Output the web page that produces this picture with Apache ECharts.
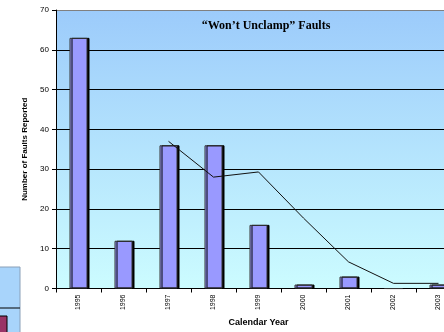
<!DOCTYPE html>
<html>
<head>
<meta charset="utf-8">
<script src="https://cdn.jsdelivr.net/npm/echarts@6/dist/echarts.min.js"></script>
<style>
  html, body { margin: 0; padding: 0; background: #ffffff; overflow: hidden; }
  #wrap { width: 444px; height: 332px; overflow: hidden; }
  #chart { width: 470px; height: 332px; }
</style>
</head>
<body>
<div id="wrap"><div id="chart"></div></div>
<script>
// "Won't Unclamp" faults per calendar year, with trend line
var years = ['1995', '1996', '1997', '1998', '1999', '2000', '2001', '2002', '2003'];
var faults = [63, 12, 36, 36, 16, 1, 3, 0, 1];
var trend = [null, null, 37, 28, 29.3, 17.7, 6.7, 1.3, 1.3];
var yTicks = [0, 10, 20, 30, 40, 50, 60, 70];

(function() {
  var ink = '#000000';
  var barFill = '#9999ff';

  // the slide crops the plot on the right, so the chart is drawn wider than the window
  var chart = echarts.init(document.getElementById('chart'), null, { renderer: 'canvas' });
  chart.setOption({
    animation: false,
    backgroundColor: '#ffffff',
    title: {
      text: '\u201cWon\u2019t Unclamp\u201d Faults',
      left: 261,
      top: 15,
      textAlign: 'center',
      textStyle: { fontFamily: 'Liberation Serif, Times New Roman, serif', fontWeight: 'bold', fontSize: 12, color: ink }
    },
    grid: {
      left: 56, top: 10, width: 405, height: 287,
      show: true,
      borderWidth: 0,
      backgroundColor: {
        type: 'linear', x: 0, y: 0, x2: 0, y2: 1,
        colorStops: [{ offset: 0, color: '#9ccbfb' }, { offset: 1, color: '#ccfcff' }]
      }
    },
    xAxis: {
      type: 'category',
      data: years,
      name: 'Calendar Year',
      nameLocation: 'middle',
      nameGap: 26,
      nameTextStyle: { fontFamily: 'Liberation Sans, Arial, sans-serif', fontWeight: 'bold', fontSize: 9, color: ink },
      axisLine: { lineStyle: { color: ink, width: 1 } },
      axisTick: { show: true, length: 4, lineStyle: { color: ink } },
      axisLabel: {
        rotate: 90, margin: 6, fontSize: 7, color: ink,
        fontFamily: 'Liberation Sans, Arial, sans-serif'
      }
    },
    yAxis: {
      type: 'value',
      min: yTicks[0], max: yTicks[yTicks.length - 1], interval: 10,
      name: 'Number of Faults Reported',
      nameLocation: 'middle',
      nameGap: 25,
      nameTextStyle: { fontFamily: 'Liberation Sans, Arial, sans-serif', fontWeight: 'bold', fontSize: 8, color: ink },
      axisLine: { show: true, lineStyle: { color: ink, width: 1 } },
      axisTick: { show: true, length: 4, lineStyle: { color: ink } },
      axisLabel: { fontSize: 8, margin: 7, color: ink, fontFamily: 'Liberation Sans, Arial, sans-serif' },
      splitLine: {
        show: true,
        lineStyle: { color: ['#000', '#000', '#000', '#000', '#000', '#000', '#000', '#808080'], width: 1 }
      }
    },
    series: [{
      type: 'bar',
      data: faults,
      barWidth: 18,
      itemStyle: {
        color: barFill,
        borderColor: '#333333',
        borderWidth: 1,
        shadowColor: '#000000',
        shadowOffsetX: 2,
        shadowOffsetY: 0,
        shadowBlur: 0
      }
    }, {
      type: 'line',
      data: trend,
      symbol: 'none',
      lineStyle: { color: '#111111', width: 1 },
      z: 5
    }],
    graphic: [
      // fragment of a neighbouring chart at bottom-left
      { type: 'rect', shape: { x: -1, y: 267, width: 21, height: 70 },
        style: { fill: '#a8d4fb', stroke: '#8aa0b8', lineWidth: 1 } },
      { type: 'line', shape: { x1: 0, y1: 308, x2: 20, y2: 308 }, style: { stroke: '#000', lineWidth: 1 } },
      { type: 'rect', shape: { x: -1, y: 316, width: 8, height: 20 },
        style: { fill: '#993366', stroke: '#000', lineWidth: 1 } }
    ]
  });
})();
</script>
</body>
</html>
